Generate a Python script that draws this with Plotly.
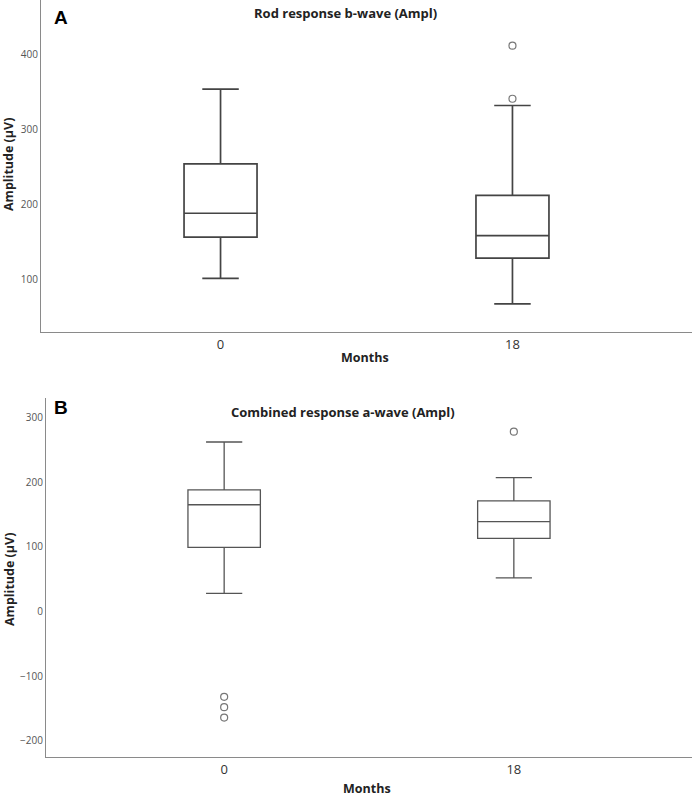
import plotly.graph_objects as go

months = ["0", "18"]

# Panel A: Rod response b-wave (Ampl)
a_lower = [101, 67]
a_q1 = [156, 128]
a_median = [188, 158]
a_q3 = [254, 212]
a_upper = [354, 332]
a_out_x = ["18", "18"]
a_out_y = [341, 412]

# Panel B: Combined response a-wave (Ampl)
b_lower = [28, 52]
b_q1 = [99, 113]
b_median = [165, 139]
b_q3 = [188, 171]
b_upper = [262, 207]
b_out_x = ["0", "0", "0", "18"]
b_out_y = [-132, -148, -164, 278]

W, H = 696, 798
fig = go.Figure()

FONT = "Open Sans"

def px_x(v):
    return v / W

def px_y(v):
    return 1 - v / H

fig.add_trace(go.Box(
    x=months, q1=a_q1, median=a_median, q3=a_q3,
    lowerfence=a_lower, upperfence=a_upper,
    width=0.25, whiskerwidth=0.5, boxpoints=False,
    fillcolor="white", line=dict(color="#444444", width=1.7),
    xaxis="x", yaxis="y", showlegend=False, hoverinfo="skip"))
fig.add_trace(go.Scatter(
    x=a_out_x, y=a_out_y, mode="markers",
    marker=dict(symbol="circle-open", size=7, color="#777777", line=dict(width=1.2)),
    xaxis="x", yaxis="y", showlegend=False))

fig.add_trace(go.Box(
    x=months, q1=b_q1, median=b_median, q3=b_q3,
    lowerfence=b_lower, upperfence=b_upper,
    width=0.25, whiskerwidth=0.5, boxpoints=False,
    fillcolor="white", line=dict(color="#555555", width=1.3),
    xaxis="x2", yaxis="y2", showlegend=False, hoverinfo="skip"))
fig.add_trace(go.Scatter(
    x=b_out_x, y=b_out_y, mode="markers",
    marker=dict(symbol="circle-open", size=7, color="#777777", line=dict(width=1.2)),
    xaxis="x2", yaxis="y2", showlegend=False))

xcommon = dict(type="category", categoryorder="array", categoryarray=months,
               range=[-0.615, 1.615], showline=True, linecolor="#8a8a8a", linewidth=1.2,
               showgrid=False, zeroline=False, ticks="",
               tickfont=dict(family=FONT, size=13, color="#333333"))
ycommon = dict(showline=True, linecolor="#8a8a8a", linewidth=1.2, showgrid=False,
               zeroline=False, ticks="", tickfont=dict(family=FONT, size=10, color="#555555"))

fig.update_layout(
    width=W, height=H, margin=dict(l=0, r=0, t=0, b=0),
    plot_bgcolor="white", paper_bgcolor="white",
    xaxis=dict(domain=[px_x(41), px_x(692)], anchor="y", **xcommon),
    yaxis=dict(domain=[px_y(332), px_y(0)], anchor="x", range=[29.3, 473],
               tickvals=[100, 200, 300, 400], **ycommon),
    xaxis2=dict(domain=[px_x(46), px_x(692)], anchor="y2", **xcommon),
    yaxis2=dict(domain=[px_y(757), px_y(398)], anchor="x2", range=[-225, 330],
                tickvals=[-200, -100, 0, 100, 200, 300], **ycommon),
)

ann = []
def add(text, x, y, size, rot=0, bold=True, family=FONT, color="#222222"):
    ann.append(dict(text=f"<b>{text}</b>" if bold else text, x=px_x(x), y=px_y(y),
                    xref="paper", yref="paper", showarrow=False, textangle=rot,
                    font=dict(family=family, size=size, color=color),
                    xanchor="center", yanchor="middle"))

add("Rod response b-wave (Ampl)", 345, 13, 13)
add("Combined response a-wave (Ampl)", 343, 412, 13)
add("A", 61, 18, 19, family="Liberation Sans", color="black")
add("B", 61, 407, 19, family="Liberation Sans", color="black")
add("Amplitude (µV)", 9, 165, 12.5, rot=-90)
add("Amplitude (µV)", 9, 580, 12.5, rot=-90)
add("Months", 365, 357, 12.5)
add("Months", 367, 788, 12.5)
fig.update_layout(annotations=ann)

fig.write_html(
    "out.html",
    config={"displayModeBar": False},
    post_script="document.body.style.margin='0';document.body.style.overflow='hidden';",
)
